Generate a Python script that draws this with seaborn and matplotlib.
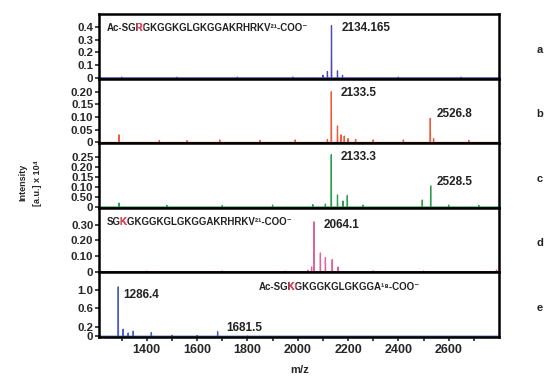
import matplotlib
matplotlib.use("Agg")
import matplotlib.pyplot as plt
import seaborn as sns
import pandas as pd
from matplotlib.transforms import Bbox

sns.set_theme(style="white")
plt.rcParams['font.family'] = ['Liberation Sans', 'DejaVu Sans']
plt.rcParams['font.weight'] = 'bold'

# ---------------- data ----------------
panel_ids = ["a", "b", "c", "d", "e"]
colors = ["#4b4bb0", "#ee5a3c", "#2f9e52", "#e0609c", "#4b5ec8"]

a_mz = [1300, 1520, 1760, 1980, 2100, 2118, 2134.165, 2158, 2178, 2400, 2650]
a_int = [0.006, 0.005, 0.006, 0.006, 0.02, 0.05, 0.41, 0.055, 0.02, 0.006, 0.005]

b_mz = [1290, 1450, 1560, 1690, 1850, 1990, 2118, 2133.5, 2158, 2172, 2185, 2200, 2230, 2300, 2420, 2526.8, 2540, 2680]
b_int = [0.03, 0.008, 0.007, 0.01, 0.008, 0.01, 0.012, 0.20, 0.065, 0.03, 0.025, 0.015, 0.012, 0.01, 0.01, 0.095, 0.015, 0.008]

c_mz = [1290, 1480, 1700, 1900, 2060, 2110, 2133.3, 2158, 2180, 2197, 2260, 2495, 2528.5, 2600, 2720]
c_int = [0.02, 0.008, 0.008, 0.01, 0.012, 0.015, 0.26, 0.06, 0.03, 0.058, 0.01, 0.035, 0.105, 0.01, 0.008]

d_mz = [1400, 1700, 1950, 2040, 2055, 2064.1, 2090, 2110, 2137, 2160, 2300, 2500, 2790]
d_int = [0.004, 0.004, 0.004, 0.01, 0.03, 0.32, 0.12, 0.09, 0.077, 0.03, 0.005, 0.004, 0.01]

e_mz = [1286.4, 1306, 1326, 1346, 1418, 1500, 1600, 1681.5, 1800]
e_int = [1.06, 0.15, 0.07, 0.11, 0.08, 0.02, 0.015, 0.10, 0.01]

all_mz = [a_mz, b_mz, c_mz, d_mz, e_mz]
all_int = [a_int, b_int, c_int, d_int, e_int]

ytick_vals = [[0, 0.1, 0.2, 0.3, 0.4],
              [0, 0.05, 0.10, 0.15, 0.20],
              [0, 0.05, 0.10, 0.15, 0.20, 0.25],
              [0, 0.10, 0.20, 0.30],
              [0, 0.2, 0.6, 1.0]]
ytick_labels = [["0", "0.1", "0.2", "0.3", "0.4"],
                ["0", "0.05", "0.10", "0.15", "0.20"],
                ["0", "0.50", "0.10", "0.15", "0.20", "0.25"],
                ["0", "0.10", "0.20", "0.30"],
                ["0", "0.2", "0.6", "1.0"]]
ytops = [0.50, 0.252, 0.317, 0.41, 1.37]

peak_labels = [["2134.165"],
               ["2133.5", "2526.8"],
               ["2133.3", "2528.5"],
               ["2064.1"],
               ["1286.4", "1681.5"]]
peak_label_mz = [[2134.165],
                 [2133.5, 2526.8],
                 [2133.3, 2528.5],
                 [2064.1],
                 [1286.4, 1681.5]]
# (dx, dy) label offsets in pixels relative to the peak top (dy > 0: below)
label_offsets = [[(10, 3)],
                 [(9, 1), (6, -4)],
                 [(9, 2), (6, -4)],
                 [(10, 3)],
                 [(5, 8), (9, -4)]]

xmin, xmax = 1210, 2800
xtick_major = [1400, 1600, 1800, 2000, 2200, 2400, 2600]
xtick_minor = [1300, 1500, 1700, 1900, 2100, 2300, 2500, 2700]

# ---------------- figure ----------------
W, H = 547, 377
fig = plt.figure(figsize=(W / 100, H / 100), dpi=100)

left, right = 99 / W, 499 / W
top_px, bot_px = 14, 337
ph = (bot_px - top_px) / 5


def stick_frame(mz, it):
    xs, ys = [xmin], [0.0]
    for m, v in sorted(zip(mz, it)):
        xs += [m - 1.0, m, m + 1.0]
        ys += [0.0, v, 0.0]
    xs.append(xmax)
    ys.append(0.0)
    return pd.DataFrame({"mz": xs, "intensity": ys})


axes = []
for i in range(5):
    y0 = 1 - (top_px + (i + 1) * ph) / H
    ax = fig.add_axes([left, y0, right - left, ph / H])
    axes.append(ax)
    df = stick_frame(all_mz[i], all_int[i])
    sns.lineplot(data=df, x="mz", y="intensity", ax=ax, sort=False,
                 estimator=None, color=colors[i], lw=0.9)
    ax.set_xlim(xmin, xmax)
    ax.set_ylim(-0.012 * ytops[i], ytops[i])
    ax.set_xlabel("")
    ax.set_ylabel("")
    ax.set_yticks(ytick_vals[i])
    ax.set_yticklabels(ytick_labels[i], fontsize=8.2, fontweight="bold")
    ax.tick_params(axis="y", direction="out", length=3, width=1.2, pad=1, left=True)
    for s in ax.spines.values():
        s.set_color("black")
        s.set_linewidth(1.8)
    if i < 4:
        ax.set_xticks([])
    else:
        ax.set_xticks(xtick_major)
        ax.set_xticks(xtick_minor, minor=True)
        ax.set_xticklabels([str(v) for v in xtick_major], fontsize=9, fontweight="bold")
        ax.tick_params(axis="x", which="both", direction="out", length=3, width=1.2,
                       bottom=True, pad=2)
    for lab, mz, (dx, dy) in zip(peak_labels[i], peak_label_mz[i], label_offsets[i]):
        yv = all_int[i][all_mz[i].index(mz)]
        ax.annotate(lab, xy=(mz, yv), xytext=(dx * 0.72, -dy * 0.72),
                    textcoords="offset points", fontsize=8.5, fontweight="bold",
                    va="center", ha="left", color="#222222")
    fig.text(540 / W, 1 - (top_px + (i + 0.55) * ph) / H, panel_ids[i],
             fontsize=8, fontweight="bold", ha="center", va="center", color="#222222")

dk = "#222222"
red = "#ff3b5c"
fs_seq = 7

sequences = [(0, 0.02, 0.78, "Ac-SG", "R", "GKGGKGLGKGGAKRHRKV²¹-COO⁻"),
             (3, 0.02, 0.78, "SG", "K", "GKGGKGLGKGGAKRHRKV²¹-COO⁻"),
             (4, 0.40, 0.78, "Ac-SG", "K", "GKGGKGLGKGGA¹⁸-COO⁻")]

seq_items = []
for (pi, x, y, pre, hl, post) in sequences:
    ax = axes[pi]
    kw = dict(fontsize=fs_seq, fontweight="bold", transform=ax.transAxes,
              va="center", ha="left")
    full = ax.text(x, y, pre + hl + post, color=dk, **kw)
    m1 = ax.text(x, y, pre, alpha=0, **kw)
    m2 = ax.text(x, y, pre + hl, alpha=0, **kw)
    over = ax.text(x, y, pre + hl + post, color=red, **kw)
    seq_items.append((m1, m2, over))

fig.canvas.draw()
r = fig.canvas.get_renderer()
for m1, m2, over in seq_items:
    b1 = m1.get_window_extent(r)
    b2 = m2.get_window_extent(r)
    over.set_clip_on(True)
    over.set_clip_box(Bbox([[b1.x1 + 0.3, b2.y0 - 5], [b2.x1 + 0.3, b2.y1 + 5]]))

fig.text(23 / W, 0.515, "Intensity", rotation=90, fontsize=6.5, fontweight="bold",
         ha="center", va="center")
fig.text(37 / W, 0.515, "[a.u.] x 10⁴", rotation=90, fontsize=6.5, fontweight="bold",
         ha="center", va="center")
fig.text(300 / W, 1 - 370 / H, "m/z", fontsize=8, fontweight="bold", ha="center", va="center")

fig.savefig("out.png", dpi=100)
